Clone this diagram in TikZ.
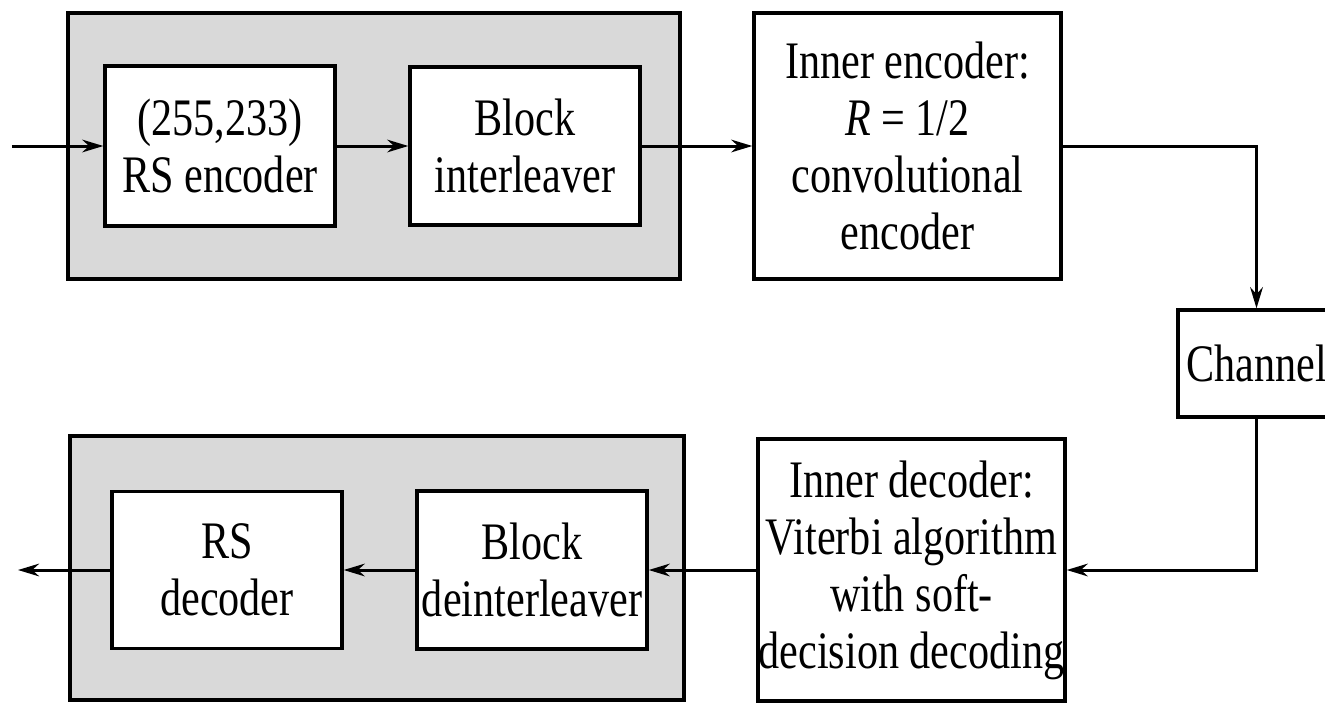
\documentclass[tikz,border=0pt]{standalone}
\usepackage{fontspec}
\setmainfont{Liberation Serif}[FakeStretch=0.8]
\usetikzlibrary{arrows.meta}

\begin{document}
\begin{tikzpicture}[>={Stealth[length=6pt,width=3.6pt]},
  font=\fontsize{15}{16.2}\selectfont,
  blk/.style={draw, fill=white, line width=0.95pt, align=center, inner sep=0pt},
  panel/.style={draw, fill=black!15, line width=0.95pt},
  wire/.style={line width=0.85pt}]
  \useasboundingbox (0,0) rectangle (13.25,7.06);

  % shaded outer code (RS + interleaving)
  \path[panel] (0.68,6.93) rectangle (6.80,4.27);
  \path[panel] (0.70,2.70) rectangle (6.84,0.06);

  % transmitter side
  \node[blk, minimum width=2.30cm, minimum height=1.60cm] (rsenc) at (2.20,5.60) {(255,233)\\RS encoder};
  \node[blk, minimum width=2.30cm, minimum height=1.58cm] (intl) at (5.25,5.60) {Block\\interleaver};
  \node[blk, minimum width=3.07cm, minimum height=2.66cm] (innerenc) at (9.075,5.60)
    {Inner encoder:\\\textit{R} = 1/2\\convolutional\\encoder};

  \node[blk, minimum width=1.57cm, minimum height=1.07cm] (chan) at (12.565,3.425) {Channel};

  % receiver side
  \node[blk, minimum width=3.07cm, minimum height=2.62cm] (innerdec) at (9.115,1.36)
    {Inner decoder:\\Viterbi algorithm\\with soft-\\decision decoding};
  \node[blk, minimum width=2.30cm, minimum height=1.58cm] (deintl) at (5.32,1.36) {Block\\deinterleaver};
  \node[blk, minimum width=2.30cm, minimum height=1.57cm] (rsdec) at (2.27,1.36) {RS\\decoder};

  \coordinate (in) at (0.12,5.60);
  \coordinate (out) at (0.18,1.36);

  \draw[wire,->] (in) -- (rsenc);
  \draw[wire,->] (rsenc) -- (intl);
  \draw[wire,->] (intl) -- (innerenc);
  \draw[wire,->] (innerenc.east) -| (chan.north);
  \draw[wire,->] (chan.south) |- (innerdec.east);
  \draw[wire,->] (innerdec) -- (deintl);
  \draw[wire,->] (deintl) -- (rsdec);
  \draw[wire,->] (rsdec) -- (out);
\end{tikzpicture}
\end{document}
